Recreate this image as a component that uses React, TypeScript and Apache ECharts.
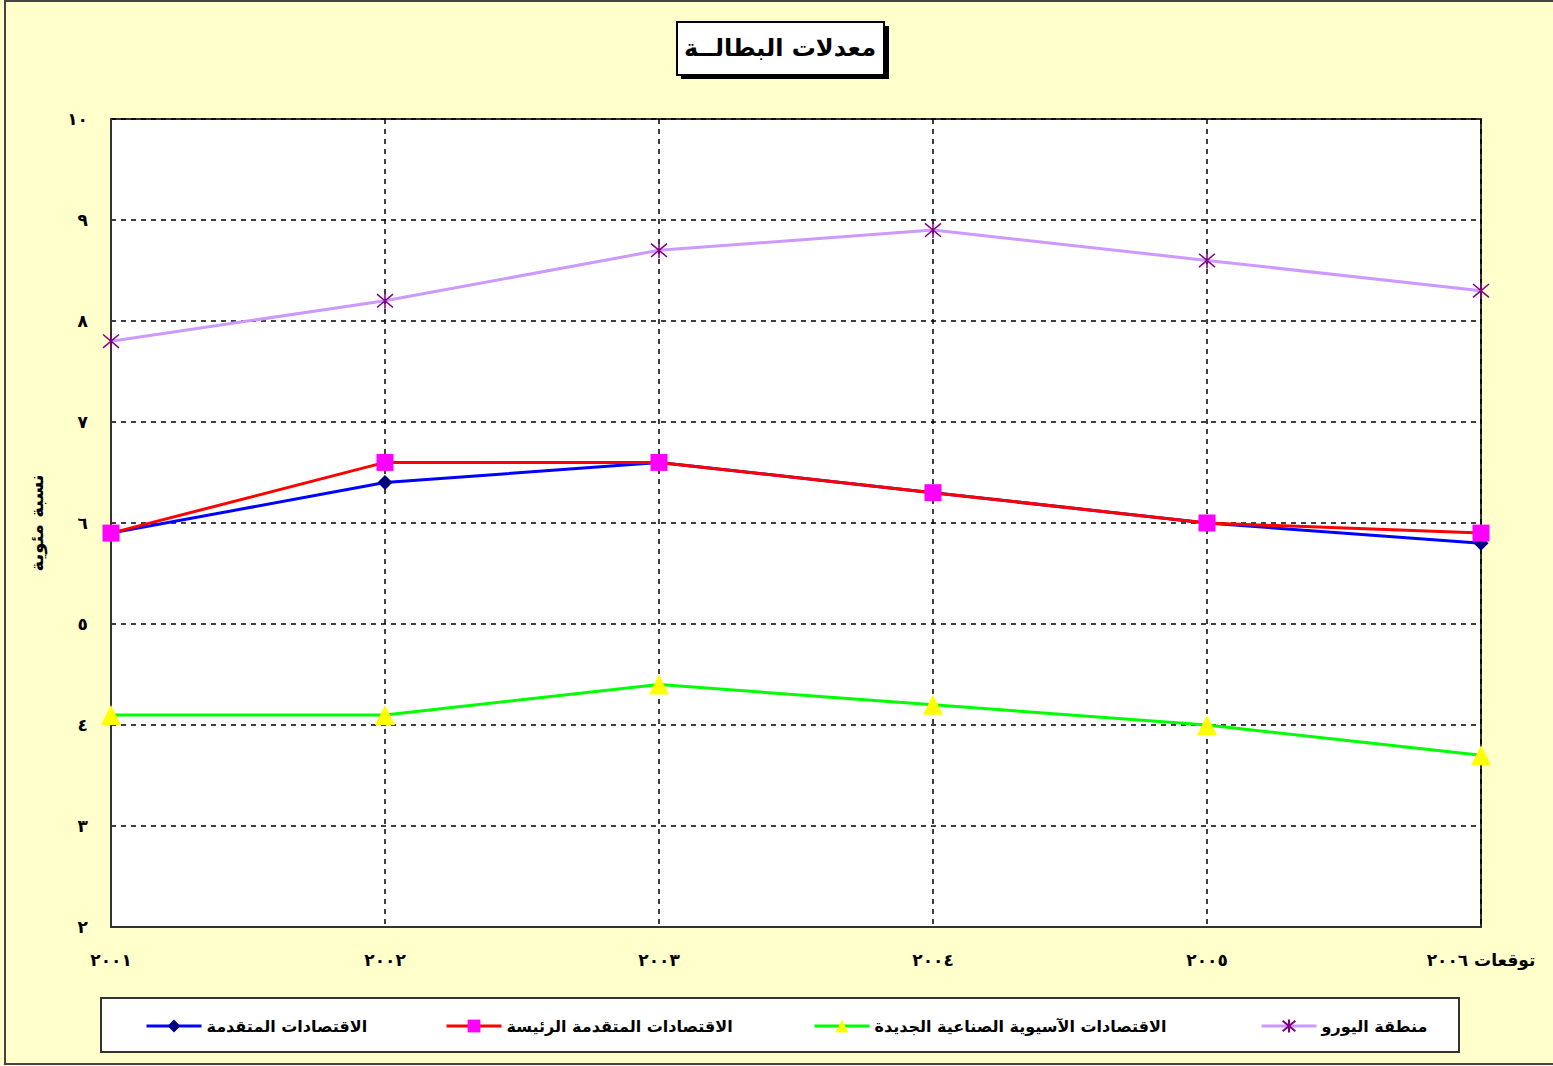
import React, { useEffect, useRef } from "react";
import * as echarts from "echarts";

const categories = ["٢٠٠١", "٢٠٠٢", "٢٠٠٣", "٢٠٠٤", "٢٠٠٥", "توقعات ٢٠٠٦"];
const yTickLabels = ["٢", "٣", "٤", "٥", "٦", "٧", "٨", "٩", "١٠"];

const seriesNames = [
  "الاقتصادات المتقدمة",
  "الاقتصادات المتقدمة الرئيسة",
  "الاقتصادات الآسيوية الصناعية الجديدة",
  "منطقة اليورو",
];
const advanced = [5.9, 6.4, 6.6, 6.3, 6.0, 5.8];
const majorAdvanced = [5.9, 6.6, 6.6, 6.3, 6.0, 5.9];
const asianNIE = [4.1, 4.1, 4.4, 4.2, 4.0, 3.7];
const euroArea = [7.8, 8.2, 8.7, 8.9, 8.6, 8.3];

const titleText = "معدلات البطالــة";
const yAxisName = "نسبة مئوية";

const FONT = "'DejaVu Sans', 'Noto Sans', sans-serif";
const ASTERISK = "path://M0,0L10,10M10,0L0,10M5,-1L5,11";

export default function App() {
  const ref = useRef<HTMLDivElement>(null);
  useEffect(() => {
    document.body.style.margin = "0";
    const chart = echarts.init(ref.current!, null, { renderer: "svg" });
    const legendLefts = [140, 440, 808, 1255];
    chart.setOption({
      animation: false,
      backgroundColor: "#FFFFCC",
      textStyle: { fontFamily: FONT },
      grid: {
        left: 111,
        right: 72,
        top: 119,
        bottom: 139,
        show: true,
        backgroundColor: "#FFFFFF",
        borderColor: "#333333",
        borderWidth: 2,
      },
      xAxis: {
        type: "category",
        data: categories,
        boundaryGap: false,
        axisLine: { show: true, lineStyle: { color: "#333333", width: 2 } },
        axisTick: { show: false },
        axisLabel: {
          margin: 24,
          color: "#000",
          fontWeight: "bold",
          fontSize: 17,
          fontFamily: FONT,
        },
        splitLine: {
          show: true,
          lineStyle: { color: "#000", type: [5, 5], width: 1.5 },
        },
      },
      yAxis: {
        type: "value",
        min: 2,
        max: 10,
        interval: 1,
        name: yAxisName,
        nameLocation: "middle",
        nameRotate: 90,
        nameGap: 66,
        nameTextStyle: { color: "#000", fontWeight: "bold", fontSize: 18, fontFamily: FONT },
        axisLine: { show: true, lineStyle: { color: "#333333", width: 2 } },
        axisTick: { show: false },
        axisLabel: {
          margin: 23,
          color: "#000",
          fontWeight: "bold",
          fontSize: 17,
          fontFamily: FONT,
          formatter: (v: number) => yTickLabels[Math.round(v - 2)] ?? "",
        },
        splitLine: {
          show: true,
          lineStyle: { color: "#000", type: [5, 5], width: 1.5 },
        },
      },
      legend: seriesNames.map((n, i) => ({
        data: [n],
        left: legendLefts[i],
        top: 1013,
        itemWidth: 55,
        itemHeight: 16,
        itemGap: 4,
        lineStyle: { width: 3 },
        textStyle: { color: "#000", fontWeight: "bold", fontSize: 16, fontFamily: FONT },
      })),
      graphic: [
        {
          type: "rect",
          shape: { x: 5, y: 1, width: 1600, height: 1063 },
          style: { fill: "none", stroke: "#444", lineWidth: 2 },
          silent: true,
          z: 100,
        },
        {
          type: "rect",
          shape: { x: 101, y: 998, width: 1358, height: 54 },
          style: { fill: "#FFFFFF", stroke: "#333", lineWidth: 2 },
          silent: true,
          z: -1,
        },
        {
          type: "rect",
          shape: { x: 681, y: 26, width: 208, height: 53 },
          style: { fill: "#000" },
          silent: true,
        },
        {
          type: "rect",
          shape: { x: 677, y: 22, width: 207, height: 53 },
          style: { fill: "#FFFFFF", stroke: "#000", lineWidth: 2 },
          silent: true,
        },
        {
          type: "text",
          x: 780,
          y: 48,
          style: {
            text: titleText,
            fill: "#000",
            font: "bold 24px " + FONT,
            textAlign: "center",
            textVerticalAlign: "middle",
          },
          silent: true,
        },
      ],
      series: [
        {
          name: seriesNames[0],
          type: "line",
          data: advanced,
          symbol: "diamond",
          symbolSize: 15,
          lineStyle: { color: "#0000FF", width: 3 },
          itemStyle: { color: "#000080" },
          z: 2,
        },
        {
          name: seriesNames[1],
          type: "line",
          data: majorAdvanced,
          symbol: "rect",
          symbolSize: 17,
          lineStyle: { color: "#FF0000", width: 3 },
          itemStyle: { color: "#FF00FF" },
          z: 3,
        },
        {
          name: seriesNames[2],
          type: "line",
          data: asianNIE,
          symbol: "triangle",
          symbolSize: 20,
          lineStyle: { color: "#00FF00", width: 3 },
          itemStyle: { color: "#FFFF00" },
          z: 2,
        },
        {
          name: seriesNames[3],
          type: "line",
          data: euroArea,
          symbol: ASTERISK,
          symbolSize: 16,
          lineStyle: { color: "#CC99FF", width: 3 },
          itemStyle: { color: "#800080", borderColor: "#800080", borderWidth: 1.5 },
          z: 2,
        },
      ],
    });
    return () => chart.dispose();
  }, []);
  return (
    <div
      ref={ref}
      style={{ position: "absolute", left: 0, top: 0, width: 1553, height: 1066 }}
    />
  );
}
